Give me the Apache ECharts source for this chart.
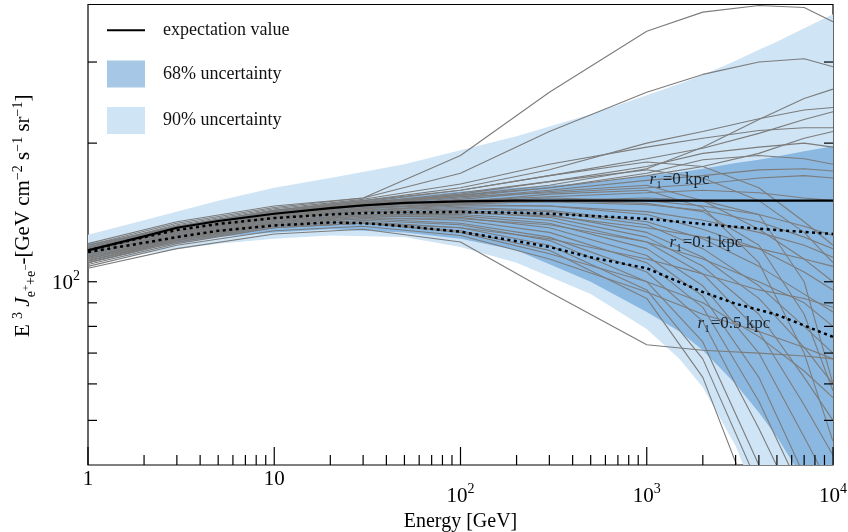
<!DOCTYPE html>
<html>
<head>
<meta charset="utf-8">
<script src="https://cdn.jsdelivr.net/npm/echarts@6/dist/echarts.min.js"></script>
<style>
  html, body { margin: 0; padding: 0; background: #fff; }
  #chart { width: 848px; height: 532px; }
</style>
</head>
<body>
<div id="chart"></div>
<script>
const FONT = "'Liberation Serif', 'DejaVu Serif', serif";
const X_MIN = 1, X_MAX = 10000, Y_MIN = 40, Y_MAX = 400;

// sample curves, E^3 J read at these energies (GeV)
const energies = [1, 3, 10, 30, 100, 300, 1000, 2000, 4000, 7000, 10000];
const samples = [
  [121, 135, 146, 152, 188, 258, 350, 385, 398, 394, 367],
  [120, 134, 145, 152, 172, 212, 258, 282, 300, 305, 293],
  [119, 132, 143, 150, 160, 175, 200, 212, 226, 236, 239],
  [118, 131, 142, 149, 158, 170, 185, 195, 210, 225, 234],
  [119, 133, 144, 151, 163, 180, 196, 205, 213, 216, 216],
  [117, 130, 141, 148, 156, 165, 178, 190, 196, 200, 196],
  [120, 132, 143, 149, 154, 160, 172, 184, 188, 185, 180],
  [116, 129, 140, 147, 152, 158, 166, 170, 175, 176, 174],
  [118, 131, 142, 148, 153, 156, 160, 163, 168, 170, 168],
  [115, 128, 139, 145, 150, 153, 156, 158, 156, 152, 150],
  [117, 130, 140, 146, 149, 152, 150, 146, 140, 132, 126],
  [114, 127, 138, 144, 148, 149, 147, 143, 135, 125, 118],
  [116, 129, 139, 145, 147, 146, 142, 136, 128, 120, 113],
  [113, 126, 137, 143, 146, 146, 140, 130, 118, 105, 96],
  [115, 128, 138, 143, 145, 143, 135, 124, 108, 94, 86],
  [112, 125, 136, 142, 144, 142, 133, 118, 98, 80, 70],
  [114, 127, 137, 142, 143, 140, 128, 113, 92, 72, 60],
  [111, 124, 135, 141, 142, 138, 125, 108, 85, 62, 50],
  [113, 126, 136, 140, 140, 136, 122, 104, 78, 54, 42],
  [110, 123, 134, 139, 139, 134, 118, 98, 70, 46, 35],
  [112, 125, 135, 139, 138, 131, 114, 93, 62, 38, 28],
  [111, 124, 134, 138, 136, 128, 110, 88, 55, 34, 25],
  [113, 125, 134, 137, 134, 125, 105, 82, 48, 30, 22],
  [110, 122, 132, 136, 133, 123, 100, 74, 40, 25, 20],
  [112, 124, 133, 135, 131, 120, 96, 68, 36, 22, 18],
  [109, 121, 131, 134, 129, 117, 92, 62, 30, 20, 18],
  [111, 123, 132, 134, 128, 115, 100, 90, 76, 64, 56],
  [108, 120, 129, 132, 126, 112, 95, 85, 78, 72, 68],
  [107, 118, 127, 130, 122, 95, 73, 71, 70, 69, 68],
  [110, 122, 131, 134, 131, 124, 112, 104, 96, 92, 88],
  [112, 125, 135, 140, 141, 139, 131, 125, 118, 112, 108],
  [114, 128, 139, 146, 151, 157, 162, 150, 130, 112, 100],
  [116, 130, 141, 148, 155, 165, 175, 168, 150, 128, 110],
  [118, 132, 143, 150, 158, 170, 182, 178, 160, 135, 120],
  [115, 128, 138, 144, 148, 150, 148, 142, 120, 85, 58],
  [111, 123, 133, 137, 137, 133, 122, 112, 100, 90, 80],
  [117, 130, 141, 148, 154, 162, 176, 196, 225, 250, 262],
  [116, 129, 140, 147, 153, 160, 170, 178, 190, 205, 212],
  [113, 126, 137, 143, 147, 150, 152, 150, 140, 100, 60],
  [114, 127, 138, 144, 149, 155, 158, 145, 110, 70, 45]
];

// expectation value and the two r1 cases
const lineEnergies = [1, 2, 3, 5, 10, 20, 30, 50, 100, 200, 300, 500, 1000, 2000, 3000, 5000, 10000];
const expectation = [117, 125.5, 131, 135.5, 140.5, 144.5, 146.5, 148.3, 149.5, 150, 150, 150, 150, 150, 150, 150, 150];
const r1_01 = [117, 125, 129.5, 133.5, 137.5, 140, 141, 141.5, 141.7, 141.2, 140.5, 139, 137, 133.5, 131.5, 129.5, 127];
const r1_05 = [116, 121.5, 125, 129, 132.5, 134.5, 134, 132, 128.4, 122.5, 119, 113, 107, 95, 89.6, 84.8, 75.9];

// uncertainty bands
const bandEnergies = [1, 2, 5, 10, 20, 50, 100, 200, 500, 1000, 1500, 2000, 3000, 4000, 5000, 7000, 10000];
const upper90 = [126.5, 136, 150, 160, 168, 180, 193, 207, 231, 254, 269, 281, 302, 319, 332, 355, 381];
const lower90 = [110, 115, 121, 124, 126, 125, 119, 110, 94, 79, 68, 59, 44, 33, 27, 20, 15];
const upper68 = [121, 127, 136, 143, 148, 153, 157, 160, 164, 170, 173, 176, 181, 184, 187, 192, 197];
const lower68 = [113, 118, 125, 128, 130, 128, 124, 117, 100, 86, 78, 71, 60, 52, 46, 37, 28];

// tick positions
const xMajorTicks = [1, 10, 100, 1000, 10000];
const xMinorTicks = [2, 3, 4, 5, 6, 7, 8, 9, 20, 30, 40, 50, 60, 70, 80, 90,
  200, 300, 400, 500, 600, 700, 800, 900, 2000, 3000, 4000, 5000, 6000, 7000, 8000, 9000];
const yTicks = [50, 60, 70, 80, 90, 100, 200, 300];

// r1 annotations
const noteEnergy = [1500, 2080, 2940];
const noteFlux = [165.7, 120.9, 80.7];
const noteText = ['0', '0.1', '0.5'];

const chart = echarts.init(document.getElementById('chart'));

function band(name, upper, lower, color) {
  return {
    name: name,
    type: 'custom',
    clip: true,
    silent: true,
    z: 1,
    itemStyle: { color: color },
    data: [[bandEnergies[0], upper[0]]],
    renderItem(params, api) {
      const pts = [];
      bandEnergies.forEach((e, i) => pts.push(api.coord([e, upper[i]])));
      for (let i = bandEnergies.length - 1; i >= 0; i--) {
        pts.push(api.coord([bandEnergies[i], lower[i]]));
      }
      return { type: 'polygon', shape: { points: pts }, style: { fill: color } };
    }
  };
}

const greySeries = samples.map((s) => ({
  name: 'sample',
  type: 'line',
  silent: true,
  symbol: 'none',
  z: 2,
  lineStyle: { color: '#7c7c7c', width: 1.1 },
  data: energies.map((e, i) => [e, s[i]])
}));

// ticks drawn inward on all sides
const tickSeries = {
  type: 'custom',
  silent: true,
  z: 8,
  data: [[X_MIN, Y_MIN]],
  renderItem(params, api) {
    const children = [];
    const seg = (x1, y1, x2, y2) => children.push({
      type: 'line', shape: { x1, y1, x2, y2 }, style: { stroke: '#000', lineWidth: 1.2 }
    });
    xMajorTicks.forEach((v) => { const p = api.coord([v, Y_MIN]); seg(p[0], p[1], p[0], p[1] - 18); });
    xMinorTicks.forEach((v) => { const p = api.coord([v, Y_MIN]); seg(p[0], p[1], p[0], p[1] - 10); });
    yTicks.forEach((v) => {
      const l = api.coord([X_MIN, v]);
      const r = api.coord([X_MAX, v]);
      seg(l[0], l[1], l[0] + 9, l[1]);
      seg(r[0], r[1], r[0] - 9, r[1]);
    });
    return { type: 'group', children: children };
  }
};

chart.setOption({
  animation: false,
  backgroundColor: '#fff',
  textStyle: { fontFamily: FONT },
  grid: {
    left: 88, right: 15, top: 4.5, bottom: 67,
    show: true, borderColor: '#000', borderWidth: 1.2,
    outerBoundsMode: 'none'
  },
  legend: {
    orient: 'vertical',
    left: 106,
    top: 19.5,
    padding: 0,
    itemWidth: 38,
    itemHeight: 27,
    itemGap: 19.5,
    selectedMode: false,
    textStyle: { fontFamily: FONT, fontSize: 18, color: '#111', padding: [0, 0, 0, 13] },
    data: [
      { name: 'expectation value', itemStyle: { opacity: 0 } },
      { name: '68% uncertainty', icon: 'rect', itemStyle: { color: '#a6c8e6' } },
      { name: '90% uncertainty', icon: 'rect', itemStyle: { color: '#cfe4f5' } }
    ]
  },
  xAxis: {
    type: 'log',
    logBase: 10,
    min: X_MIN,
    max: X_MAX,
    name: 'Energy [GeV]',
    nameLocation: 'middle',
    nameGap: 43,
    nameTextStyle: { fontFamily: FONT, fontSize: 20, color: '#000' },
    axisLine: { show: false },
    axisTick: { show: false },
    splitLine: { show: false },
    axisLabel: {
      margin: 4,
      color: '#000',
      fontFamily: FONT,
      formatter(v) {
        const n = Math.round(Math.log10(v));
        if (n === 0) return '{a|1}';
        if (n === 1) return '{a|10}';
        return '{b|10}{s|' + n + '}';
      },
      rich: {
        a: { fontSize: 21, fontFamily: FONT, color: '#000', verticalAlign: 'bottom' },
        b: { fontSize: 21, fontFamily: FONT, color: '#000', verticalAlign: 'bottom', padding: [17, 0, 0, 0] },
        s: { fontSize: 14, fontFamily: FONT, color: '#000', verticalAlign: 'bottom', padding: [0, 0, 11, 0] }
      }
    }
  },
  yAxis: {
    type: 'log',
    logBase: 10,
    min: Y_MIN,
    max: Y_MAX,
    name: '{m|E }{p|3}{m| }{j|J}{b|e}{bp|+}{b|+e}{bp|\u2212}{m|-[GeV cm}{p|\u22122}{m| s}{p|\u22121}{m| sr}{p|\u22121}{m|]}',
    nameLocation: 'middle',
    nameRotate: 90,
    nameGap: 50,
    nameTextStyle: {
      fontFamily: FONT,
      color: '#000',
      padding: [0, 0, 0, 38],
      rich: {
        m: { fontSize: 21, fontFamily: FONT, color: '#000', verticalAlign: 'bottom', padding: [0, 0, 4, 0] },
        j: { fontSize: 21, fontFamily: FONT, fontStyle: 'italic', color: '#000', verticalAlign: 'bottom', padding: [0, 0, 4, 0] },
        p: { fontSize: 14, fontFamily: FONT, color: '#000', verticalAlign: 'bottom', padding: [0, 0, 13, 0] },
        b: { fontSize: 14, fontFamily: FONT, color: '#000', verticalAlign: 'bottom', padding: [0, 0, 0, 0] },
        bp: { fontSize: 11, fontFamily: FONT, color: '#000', verticalAlign: 'bottom', padding: [0, 0, 6, 0] }
      }
    },
    axisLine: { show: false },
    axisTick: { show: false },
    splitLine: { show: false },
    axisLabel: {
      margin: 8,
      color: '#000',
      formatter(v) {
        return Math.abs(Math.log10(v) - 2) < 1e-6 ? '{y|10}{ys|2}' : '';
      },
      rich: {
        y: { fontSize: 21, fontFamily: FONT, color: '#000', verticalAlign: 'bottom' },
        ys: { fontSize: 14, fontFamily: FONT, color: '#000', verticalAlign: 'bottom', padding: [0, 0, 10, 0] }
      }
    }
  },
  series: [
    band('90% uncertainty', upper90, lower90, '#cfe4f4'),
    band('68% uncertainty', upper68, lower68, '#8bb8e1'),
    ...greySeries,
    {
      name: 'expectation value',
      type: 'line',
      silent: true,
      symbol: 'none',
      z: 4,
      itemStyle: { color: '#000' },
      lineStyle: { color: '#000', width: 2.2 },
      data: lineEnergies.map((e, i) => [e, expectation[i]])
    },
    {
      name: 'r1 = 0.1 kpc',
      type: 'line',
      silent: true,
      symbol: 'none',
      z: 4,
      lineStyle: { color: '#000', width: 2.5, type: [3, 3.5] },
      data: lineEnergies.map((e, i) => [e, r1_01[i]])
    },
    {
      name: 'r1 = 0.5 kpc',
      type: 'line',
      silent: true,
      symbol: 'none',
      z: 4,
      lineStyle: { color: '#000', width: 2.5, type: [3, 3.5] },
      data: lineEnergies.map((e, i) => [e, r1_05[i]])
    },
    {
      type: 'scatter',
      silent: true,
      symbolSize: 0,
      z: 6,
      data: noteEnergy.map((e, i) => ({ value: [e, noteFlux[i]], name: noteText[i] })),
      label: {
        show: true,
        position: 'inside',
        formatter: (p) => '{r|r}{s|1}{t|=' + p.name + ' kpc}',
        rich: {
          r: { fontSize: 17, fontFamily: FONT, fontStyle: 'italic', color: '#000', verticalAlign: 'bottom', padding: [0, 0, 3, 0] },
          s: { fontSize: 11, fontFamily: FONT, color: '#000', verticalAlign: 'bottom', padding: [0, 1, 0, 0] },
          t: { fontSize: 17, fontFamily: FONT, color: '#000', verticalAlign: 'bottom', padding: [0, 0, 3, 0] }
        }
      }
    },
    tickSeries
  ]
});
</script>
</body>
</html>
